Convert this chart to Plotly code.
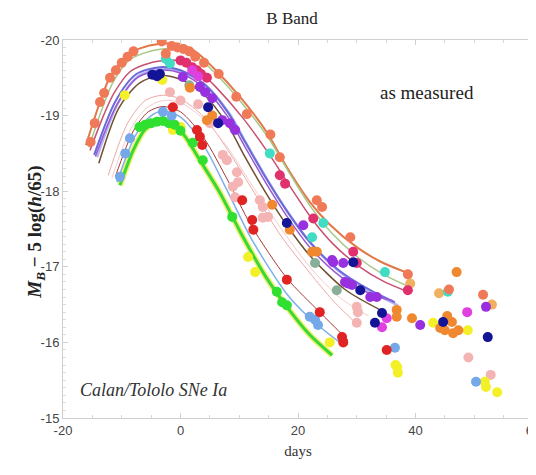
import plotly.graph_objects as go

# ---- fitted light curves (days, M_B) ----
orange_x = [-16.1, -13.7, -12, -9.1, -6.9, -3.5, -0.5, 2.5, 5.5, 10.1, 14.7, 18, 22, 25.4, 30, 34, 38.6]
orange_y = [-18.61, -19.18, -19.51, -19.8, -19.89, -19.95, -19.95, -19.85, -19.64, -19.25, -18.78, -18.33, -17.86, -17.56, -17.26, -17.07, -16.92]
olive_x = [-15.6, -13.2, -11.5, -8.8, -6.5, -3.2, -0.2, 2.8, 5.8, 10.4, 15, 18.3, 22.3, 25.7, 30.3, 34.3, 39.1]
olive_y = [-18.58, -19.12, -19.44, -19.73, -19.82, -19.88, -19.88, -19.78, -19.57, -19.17, -18.7, -18.27, -17.78, -17.45, -17.12, -16.91, -16.73]
rose_x = [-15.4, -13, -11.3, -8.6, -6.3, -3, 0, 3, 6, 10.5, 15, 18.5, 22.5, 26, 30.5, 34.5, 38.7]
rose_y = [-18.54, -19.02, -19.3, -19.58, -19.67, -19.73, -19.72, -19.6, -19.38, -18.98, -18.5, -18.08, -17.62, -17.3, -17.0, -16.81, -16.67]
blue_x = [-14.7, -11, -7.5, -3.5, 0, 4, 8, 11, 14.5, 18, 22, 27, 32.3, 36.5]
blue_y = [-18.48, -19.2, -19.55, -19.64, -19.6, -19.42, -19.05, -18.65, -18.18, -17.75, -17.33, -16.95, -16.69, -16.53]
lav_x = [-14.2, -10.6, -7.2, -3.3, 0.3, 4.3, 8.3, 11.3, 14.8, 18.3, 22.3, 27.3, 32.6, 37]
lav_y = [-18.45, -19.17, -19.52, -19.62, -19.58, -19.4, -19.03, -18.62, -18.15, -17.72, -17.3, -16.92, -16.66, -16.49]
purple_x = [-14.5, -10.8, -7.4, -3.4, 0.1, 4.1, 8.1, 11.1, 14.6, 18.1, 22.1, 27.1, 32.4, 36.2]
purple_y = [-18.46, -19.15, -19.5, -19.6, -19.56, -19.36, -18.98, -18.57, -18.1, -17.67, -17.25, -16.88, -16.64, -16.55]
brown_x = [-13.9, -10.5, -7, -3.5, 0, 4, 8, 11, 14.5, 18, 22, 28, 34]
brown_y = [-18.37, -19.1, -19.43, -19.53, -19.48, -19.28, -18.88, -18.45, -17.98, -17.56, -17.15, -16.7, -16.43]
pink_x = [-12.3, -9, -6, -3, 0, 4, 8, 12, 17, 22, 26, 30.6]
pink_y = [-18.21, -18.9, -19.2, -19.27, -19.22, -18.98, -18.55, -18.05, -17.42, -16.92, -16.55, -16.2]
pink2_x = [-11.7, -8.5, -5.8, -3, 0, 4, 8, 12, 17, 22, 27, 32]
pink2_y = [-18.17, -18.82, -19.1, -19.2, -19.17, -18.95, -18.58, -18.1, -17.52, -17.0, -16.6, -16.35]
red_x = [-11.1, -8, -5.5, -3, 0, 4, 8, 12, 18.1, 23.7, 28.5]
red_y = [-18.19, -18.8, -19.05, -19.12, -19.05, -18.7, -18.15, -17.55, -16.85, -16.4, -16.03]
sky_x = [-10.8, -7.8, -5.3, -3, 0, 4, 8, 12, 18, 22, 27.1]
sky_y = [-18.12, -18.72, -18.98, -19.06, -18.98, -18.6, -18.0, -17.38, -16.65, -16.32, -16.0]
green_x = [-10.3, -8, -6, -3.5, -1, 1, 3.3, 6.7, 10.6, 14.5, 18.6, 22, 25.8]
green_y = [-18.08, -18.55, -18.82, -18.93, -18.88, -18.7, -18.41, -17.98, -17.4, -16.87, -16.42, -16.1, -15.83]

# ---- measured points ----
coral_px = [-15.3, -14.6, -13.7, -13, -12, -11, -10, -9, -8, -3.2, -2.5, -1.5, -0.5, 0.5, 1.5, 2.5, 4, 6.5, 9.5, 11.3, 15.3, 16.9, 23.2, 24.1, 28.9, 38.7, 51.5, 45.7]
coral_py = [-18.65, -18.9, -19.18, -19.3, -19.5, -19.6, -19.7, -19.78, -19.85, -19.98, -19.82, -19.92, -19.9, -19.88, -19.85, -19.78, -19.7, -19.55, -19.25, -19.02, -18.75, -18.45, -17.88, -17.79, -17.39, -16.9, -16.63, -16.7]
crimson_px = [0, 1, 2, 2.8, 3.5, 4.5, 16.9, 17.8, 22.6, 29.4, 30, 38.7]
crimson_py = [-19.73, -19.7, -19.64, -19.6, -19.55, -19.5, -18.21, -18.1, -17.64, -17.2, -17.05, -16.69]
magenta_px = [2, 3, 35.1, 34.3, 48.8]
magenta_py = [-19.6, -19.52, -16.32, -16.2, -16.4]
purple_px = [0.4, 3.3, 4.2, 5.4, 7.1, 8.4, 9.3, 20.9, 25.8, 26, 27.7, 28, 28.3, 28.5, 29.2, 32.3, 33.4, 40.8, 52]
purple_py = [-19.51, -19.38, -19.31, -19.23, -18.94, -18.9, -18.81, -17.55, -17.09, -17.06, -17.05, -16.8, -16.79, -16.78, -16.76, -16.6, -16.6, -16.23, -16.47]
navy_px = [-4.8, -4, -3.5, 4.7, 6.4, 18.1, 29.4, 30.6, 33.1, 34.3, 44.7, 52.3]
navy_py = [-19.54, -19.52, -19.55, -19.11, -18.9, -17.58, -17.06, -16.69, -16.26, -16.39, -16.27, -16.07]
teal_px = [-1.8, -2.5, 15.2, 22.4, 24.3, 34.8, 45.5]
teal_py = [-19.69, -19.75, -18.5, -17.39, -17.58, -16.93, -16.67]
orange_px = [1.6, 4.5, 5.4, 15.6, 18.6, 22.4, 23.2, 36.8, 36.8, 39.4, 45.4, 46.2, 44.2, 45, 46.4, 47.3, 47]
orange_py = [-19.37, -18.94, -19.0, -17.82, -17.49, -17.2, -17.2, -16.43, -16.34, -16.32, -16.35, -16.27, -16.19, -16.16, -16.12, -16.16, -16.93]
tan_px = [44, 53, 39.1]
tan_py = [-16.65, -16.5, -16.78]
yellow_px = [-9.5, -3.1, -1.3, 0, 11.5, 12.7, 25.4, 36.9, 37, 36.6, 43, 48.9, 51.8, 52, 53.9]
yellow_py = [-19.27, -19.47, -18.81, -18.85, -17.13, -16.93, -16.0, -15.67, -15.6, -15.7, -16.26, -16.16, -15.48, -15.41, -15.34]
lime_px = [-7, -6, -5, -4, -3, -2, -1, 0, 2.1, 3.8, 8.8, 16.4, 17.3, 18.1]
lime_py = [-18.85, -18.88, -18.9, -18.92, -18.93, -18.9, -18.88, -18.8, -18.64, -18.41, -17.66, -16.67, -16.53, -16.49]
sky_px = [-10.3, -9.4, -8.6, -3, -1.5, 22, 22.9, 23.4, 36.5, 50.3]
sky_py = [-18.19, -18.5, -18.7, -19.05, -19.0, -16.34, -16.3, -16.23, -15.93, -15.48]
red_px = [-1.3, 2.8, 3.3, 3.7, 10.5, 12.2, 12.4, 18.1, 23.7, 27.5, 27.7, 35.1]
red_py = [-19.11, -18.81, -18.72, -18.61, -17.88, -17.62, -17.49, -16.83, -16.4, -16.07, -16.0, -15.9]
pink_px = [-1.8, 0, 3, 5, 7.2, 7.9, 9.6, 9.8, 8.9, 9.3, 13.5, 14, 14, 14.9, 30, 30.2, 30, 49, 52.8]
pink_py = [-19.31, -19.2, -19.15, -18.9, -18.48, -18.41, -18.25, -18.12, -18.06, -17.92, -17.88, -17.79, -17.65, -17.66, -16.47, -16.4, -16.26, -15.8, -15.57]
sage_px = [1.5, 22.9, 26.6]
sage_py = [-19.4, -17.05, -16.69]

fig = go.Figure()

curves = [
    (green_x, green_y, "#eef070", 6),
    (orange_x, orange_y, "#e07848", 2),
    (olive_x, olive_y, "#a8c888", 1.5),
    (rose_x, rose_y, "#c85070", 1.5),
    (lav_x, lav_y, "#b4b4f2", 2.5),
    (blue_x, blue_y, "#6a6ad8", 2),
    (purple_x, purple_y, "#9858d0", 1.5),
    (brown_x, brown_y, "#705030", 1.5),
    (pink_x, pink_y, "#eea8a8", 1),
    (pink2_x, pink2_y, "#f6cccc", 1),
    (red_x, red_y, "#a83838", 1),
    (sky_x, sky_y, "#80b0e8", 1.5),
    (green_x, green_y, "#38d838", 3),
]
for cx, cy, col, w in curves:
    fig.add_trace(go.Scatter(x=cx, y=cy, mode="lines",
                             line=dict(color=col, width=w, shape="spline", smoothing=0.8)))

dots = [
    (pink_px, pink_py, "#f4b4b4"),
    (sage_px, sage_py, "#88b098"),
    (yellow_px, yellow_py, "#f4f028"),
    (lime_px, lime_py, "#30e030"),
    (sky_px, sky_py, "#74a8e8"),
    (red_px, red_py, "#e02424"),
    (tan_px, tan_py, "#f0b060"),
    (orange_px, orange_py, "#f08830"),
    (teal_px, teal_py, "#40dcc4"),
    (coral_px, coral_py, "#f07a58"),
    (crimson_px, crimson_py, "#e0306e"),
    (magenta_px, magenta_py, "#e040e0"),
    (purple_px, purple_py, "#9830e0"),
    (navy_px, navy_py, "#141496"),
]
for px, py, col in dots:
    fig.add_trace(go.Scatter(x=px, y=py, mode="markers",
                             marker=dict(color=col, size=10, line=dict(width=0))))

serif = "Liberation Serif"
# page body adds ~8px offset, margins compensate for it
fig.update_layout(
    width=536, height=475,
    margin=dict(l=55, r=11, t=32, b=65),
    paper_bgcolor="white", plot_bgcolor="white",
    showlegend=False,
    title=dict(text="B Band", x=0.53, xanchor="center", xref="container",
               y=0.979, yanchor="middle", yref="container", automargin=False,
               font=dict(family=serif, size=17, color="#222")),
    font=dict(family="Liberation Sans", size=13, color="#444"),
)
fig.update_xaxes(
    range=[-20, 60], showgrid=False, zeroline=False, automargin=False,
    showline=True, linecolor="#cfcfcf", linewidth=1, mirror="ticks",
    ticks="inside", ticklen=5, tickcolor="#cfcfcf",
    tickvals=[-20, 0, 20, 40, 60], ticktext=["-20", "0", "20", "40", "60"],
    minor=dict(dtick=5, ticks="inside", ticklen=3, tickcolor="#d8d8d8"),
    title=dict(text="days", font=dict(family=serif, size=15, color="#333"), standoff=8),
)
fig.update_yaxes(
    range=[-15, -20], showgrid=False, zeroline=False, automargin=False,
    showline=True, linecolor="#cfcfcf", linewidth=1, mirror="ticks",
    ticks="inside", ticklen=5, tickcolor="#cfcfcf",
    tickvals=[-20, -19, -18, -17, -16, -15], ticktext=["-20", "-19", "-18", "-17", "-16", "-15"],
    minor=dict(dtick=0.1, ticks="inside", ticklen=3, tickcolor="#dcdcdc"),
)
fig.add_annotation(text="<b><i>M</i></b><sub><b><i>B</i></b></sub><b> − 5 log(<i>h</i>/65)</b>",
                   xref="paper", yref="paper", x=-0.088, y=0.492, textangle=-90,
                   showarrow=False, font=dict(family=serif, size=19, color="#222"))
fig.add_annotation(text="as measured", xref="x", yref="y", x=42, y=-19.3,
                   showarrow=False, font=dict(family=serif, size=19, color="#222"))
fig.add_annotation(text="<i>Calan/Tololo SNe Ia</i>", xref="x", yref="y", x=-17.4, y=-15.37,
                   xanchor="left", showarrow=False, font=dict(family=serif, size=18, color="#333"))

fig.write_html("out.html")
